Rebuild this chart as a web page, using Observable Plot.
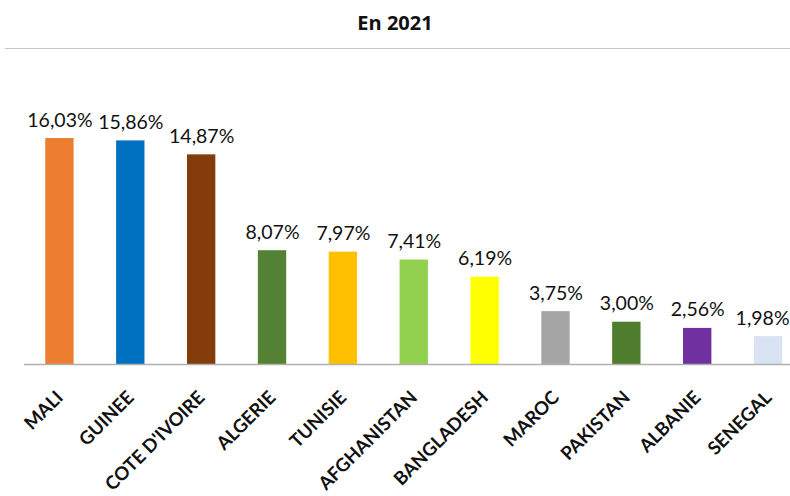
<!DOCTYPE html>
<html><head><meta charset="utf-8">
<script src="https://cdn.jsdelivr.net/npm/d3@7"></script>
<script src="https://cdn.jsdelivr.net/npm/@observablehq/plot@0.6"></script>
<style>
body{margin:0;background:#fff;width:790px;height:496px;overflow:hidden;}
#title{height:49px;border-bottom:1.5px solid #c8c8c8;margin-left:5px;text-align:center;font-family:"Open Sans",sans-serif;font-weight:700;font-size:20px;line-height:46px;color:#111;box-sizing:border-box;padding-right:5px;}
#chart svg{display:block;overflow:hidden;}
</style></head>
<body>
<div id="title">En 2021</div>
<div id="chart"></div>
<script>
const countries = ["MALI","GUINEE","COTE D'IVOIRE","ALGERIE","TUNISIE","AFGHANISTAN","BANGLADESH","MAROC","PAKISTAN","ALBANIE","SENEGAL"];
const values = [16.03,15.86,14.87,8.07,7.97,7.41,6.19,3.75,3.00,2.56,1.98];
const labels = ["16,03%","15,86%","14,87%","8,07%","7,97%","7,41%","6,19%","3,75%","3,00%","2,56%","1,98%"];
const colors = ["#ED7D31","#0070C0","#843C0C","#548235","#FFC000","#92D050","#FFFF00","#A5A5A5","#4E7D2E","#7030A0","#DAE3F3"];

const data = countries.map((c,i)=>({country:c, value:values[i], label:labels[i], color:colors[i], last: i === countries.length - 1}));

const chart = Plot.plot({
  width: 790,
  height: 445,
  marginLeft: 24,
  marginRight: 0,
  marginTop: 0,
  marginBottom: 0,
  style: {fontFamily: "Lato, sans-serif", background: "transparent"},
  x: {domain: countries, range: [24, 803.5], paddingInner: 0.6, paddingOuter: 0.3, round: false, axis: null},
  y: {domain: [0, d3.max(values)], range: [315, 89], axis: null},
  marks: [
    Plot.barY(data, {x: "country", y: "value", fill: "color"}),
    Plot.ruleY([0], {stroke: "#b0b0b0", strokeWidth: 1.3}),
    Plot.text(data.filter(d => !d.last), {x: "country", y: "value", text: "label", lineAnchor: "bottom", dy: -12, fontSize: 19.5, fill: "#111"}),
    Plot.text(data.filter(d => d.last), {x: "country", y: "value", text: "label", lineAnchor: "bottom", dy: -12, dx: -6, fontSize: 19.5, fill: "#111"}),
    Plot.text(data, {x: "country", y: () => 0, text: "country", rotate: -45, textAnchor: "end", dx: 0, dy: 30, fontSize: 18.5, fontWeight: 700, fill: "#111"})
  ]
});
document.getElementById("chart").appendChild(chart);
</script>
</body></html>
